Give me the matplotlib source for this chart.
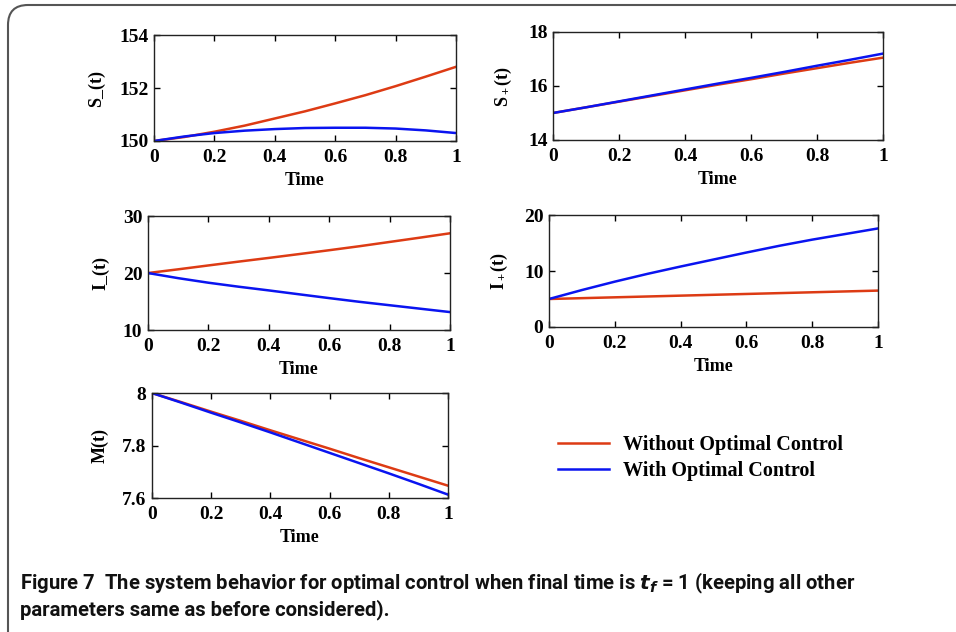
import numpy as np
import matplotlib
matplotlib.use('Agg')
import matplotlib.pyplot as plt
from matplotlib.patches import FancyBboxPatch

# time grid (values read every 0.1)
t = [0.0, 0.1, 0.2, 0.3, 0.4, 0.5, 0.6, 0.7, 0.8, 0.9, 1.0]

# Without Optimal Control (red) / With Optimal Control (blue)
s_minus_no = [150.0, 150.15, 150.35, 150.58, 150.85, 151.12, 151.42, 151.73, 152.07, 152.43, 152.8]
s_minus_oc = [150.0, 150.17, 150.3, 150.39, 150.45, 150.49, 150.5, 150.5, 150.47, 150.4, 150.3]
s_plus_no = [15.0, 15.21, 15.42, 15.63, 15.84, 16.05, 16.25, 16.46, 16.66, 16.86, 17.05]
s_plus_oc = [15.0, 15.21, 15.43, 15.65, 15.87, 16.09, 16.3, 16.52, 16.75, 16.97, 17.2]
i_minus_no = [20.0, 20.65, 21.33, 22.0, 22.65, 23.32, 24.0, 24.7, 25.45, 26.2, 26.97]
i_minus_oc = [20.0, 19.1, 18.3, 17.6, 16.95, 16.27, 15.6, 14.95, 14.35, 13.75, 13.15]
i_plus_no = [5.0, 5.15, 5.3, 5.45, 5.6, 5.75, 5.9, 6.05, 6.2, 6.35, 6.5]
i_plus_oc = [5.0, 6.6, 8.1, 9.5, 10.8, 12.05, 13.3, 14.5, 15.6, 16.6, 17.6]
m_no = [8.0, 7.965, 7.929, 7.894, 7.858, 7.823, 7.788, 7.752, 7.717, 7.682, 7.647]
m_oc = [8.0, 7.963, 7.925, 7.888, 7.85, 7.811, 7.772, 7.733, 7.694, 7.654, 7.613]

xticks = [0, 0.2, 0.4, 0.6, 0.8, 1]
xticklabels = ['0', '0.2', '0.4', '0.6', '0.8', '1']

RED = '#dd3b14'
BLUE = '#0a14f0'

plt.rcParams['font.family'] = ['Liberation Serif', 'DejaVu Serif']
plt.rcParams['font.weight'] = 'bold'
plt.rcParams['mathtext.fontset'] = 'custom'
plt.rcParams['mathtext.rm'] = 'Liberation Serif:bold'
plt.rcParams['mathtext.it'] = 'Liberation Serif:bold'

fig = plt.figure(figsize=(9.56, 6.32), dpi=100)

panels = [
    ([0.1611, 0.7769, 0.3159, 0.1677], s_minus_no, s_minus_oc, 'S_(t)', (150, 154), [150, 152, 154]),
    ([0.5785, 0.7785, 0.3452, 0.1709], s_plus_no, s_plus_oc, r'S$_+$(t)', (14, 18), [14, 16, 18]),
    ([0.1548, 0.4778, 0.3159, 0.1804], i_minus_no, i_minus_oc, 'I_(t)', (10, 30), [10, 20, 30]),
    ([0.5743, 0.4826, 0.3441, 0.1772], i_plus_no, i_plus_oc, r'I$_+$(t)', (0, 20), [0, 10, 20]),
    ([0.1590, 0.2120, 0.3096, 0.1661], m_no, m_oc, 'M(t)', (7.6, 8), [7.6, 7.8, 8]),
]

for rect, red, blue, ylab, ylim, yt in panels:
    ax = fig.add_axes(rect)
    l1, = ax.plot(t, red, color=RED, lw=1.8)
    l2, = ax.plot(t, blue, color=BLUE, lw=1.8)
    ax.set_xlim(0, 1)
    ax.set_ylim(*ylim)
    ax.set_xticks(xticks)
    ax.set_xticklabels(xticklabels)
    ax.set_yticks(yt)
    ax.set_yticklabels([('%g' % v) for v in yt])
    ax.tick_params(direction='in', top=True, right=True, labelsize=14, length=4, width=1)
    ax.tick_params(axis='x', pad=6)
    ax.tick_params(axis='y', pad=4)
    for sp in ax.spines.values():
        sp.set_linewidth(1.0)
        sp.set_color('#222222')
    ax.set_xlabel('Time', fontsize=13, fontweight='bold', labelpad=4)
    ax.set_ylabel(ylab, fontsize=13, fontweight='bold', labelpad=10)

fig.legend([l1, l2], ['Without Optimal Control', 'With Optimal Control'],
           loc='upper left', bbox_to_anchor=(0.565, 0.34), frameon=False,
           prop={'family': 'Liberation Serif', 'weight': 'bold', 'size': 14.5},
           handlelength=2.5, handletextpad=0.7, labelspacing=0.3)

# outer rounded frame
box = FancyBboxPatch((0.08, -0.3), 10.0, 6.27 + 0.3, boxstyle='round,pad=0,rounding_size=0.2',
                     transform=fig.dpi_scale_trans, fill=False, ec='#555555', lw=1.5, clip_on=False)
fig.patches.append(box)

cap_font = dict(family=['Roboto', 'DejaVu Sans'], fontweight='bold', fontsize=14.6)
fig.text(20 / 956, 1 - 583 / 632, 'Figure 7  The system behavior for optimal control when final time is $t_f$ = 1 (keeping all other',
         va='center', ha='left', color='#111111', math_fontfamily='dejavusans', **cap_font)
fig.text(20 / 956, 1 - 610 / 632, 'parameters same as before considered).',
         va='center', ha='left', color='#111111', **cap_font)

fig.savefig('out.png', dpi=100)
